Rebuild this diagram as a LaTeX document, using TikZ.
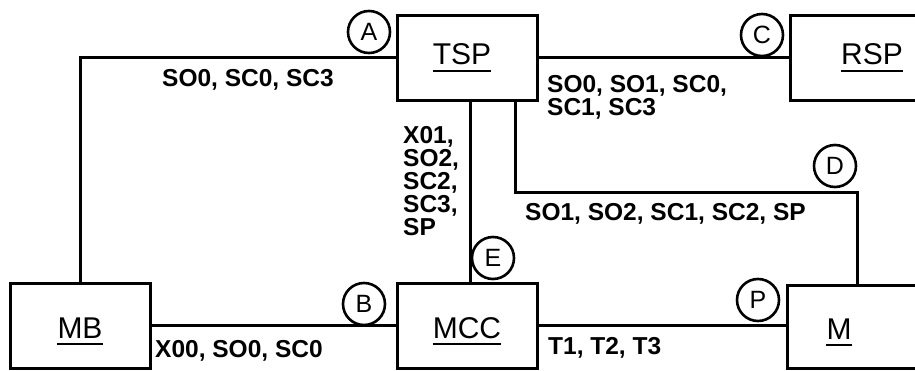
\documentclass[tikz,border=0pt]{standalone}
\usepackage{fontspec}
\setmainfont{Liberation Sans}
\begin{document}
\begin{tikzpicture}[x=1pt,y=-1pt,
  box/.style={draw, line width=3pt, minimum width=140pt, minimum height=85pt, inner sep=0pt},
  lbl/.style={inner sep=0pt, anchor=base, font=\fontsize{30}{32}\selectfont},
  tag/.style={draw, circle, line width=2.6pt, minimum size=42pt, inner sep=0pt, font=\fontsize{25}{26}\selectfont},
  txt/.style={inner sep=0pt, font=\fontsize{24.5}{23}\selectfont\bfseries, align=left},
  wire/.style={line width=3pt},
  ulin/.style={line width=2.5pt}]
\useasboundingbox (0,0) rectangle (915,371);
\clip (0,0) rectangle (915,371);
% boxes
\node[box] (tsp) at (467,58) {};
\node[box, minimum width=160pt] (rsp) at (870,58.5) {};
\node[box] (mb) at (80,325.5) {};
\node[box] (mcc) at (467,325.5) {};
\node[box, minimum width=163pt, minimum height=83pt] (m) at (868.5,326.5) {};
% box labels
\node[lbl] (tspl) at (462,65) {TSP};
\node[lbl] (rspl) at (872,65) {RSP};
\node[lbl] (mbl) at (80,338) {MB};
\node[lbl] (mccl) at (467,338) {MCC};
\node[lbl] (ml) at (839,339) {M};
\foreach \n in {tspl,rspl,mbl,mccl,ml}
  \draw[ulin] ([yshift=-6pt]\n.base west) -- ([yshift=-6pt]\n.base east);
% wires
\draw[wire] (tsp.west) -- (tsp.west -| mb.north) -- (mb.north);
\draw[wire] (tsp.east) -- (tsp.east -| rsp.west);
\coordinate (xe) at (470,0);
\draw[wire] (xe |- tsp.south) -- (xe |- mcc.north);
\coordinate (dl) at (515,193);
\coordinate (dr) at (857,193);
\draw[wire] (dl |- tsp.south) -- (dl) -- (dr) -- (dr |- m.north);
\draw[wire] (mb.east) -- (mcc.west);
\draw[wire] (mcc.east) -- (mcc.east -| m.west);
% tags
\node[tag] (ta) at (369,32) {A};
\node[tag] (tc) at (762,35) {C};
\node[tag] (td) at (835,166) {D};
\node[tag] (te) at (493,258) {E};
\node[tag] (tp) at (758,300) {P};
\node[tag] (tb) at (364,304) {B};
% connector labels
\node[txt, anchor=base] (l1) at (248,87) {SO0, SC0, SC3};
\node[txt, anchor=north west] (l2) at (547,75) {SO0, SO1, SC0,\\SC1, SC3};
\node[txt, anchor=north west] (l3) at (403,126) {X01,\\SO2,\\SC2,\\SC3,\\SP};
\node[txt, anchor=base west] (l4) at (525,221) {SO1, SO2, SC1, SC2, SP};
\node[txt, anchor=base west] (l5) at (155,357) {X00, SO0, SC0};
\node[txt, anchor=base west] (l6) at (548,354) {T1, T2, T3};
\end{tikzpicture}
\end{document}
